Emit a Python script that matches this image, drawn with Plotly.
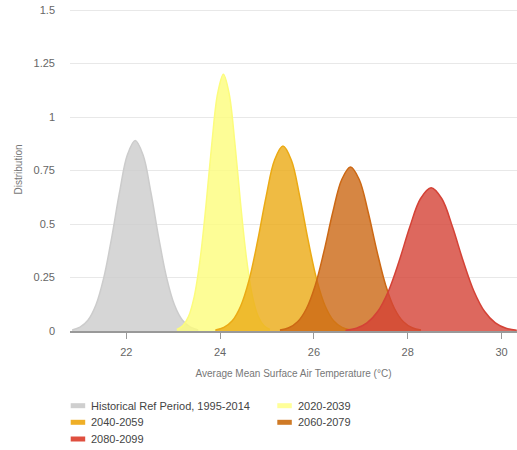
import plotly.graph_objects as go

# ---- data ----
names = ["Historical Ref Period, 1995-2014", "2020-2039", "2040-2059", "2060-2079", "2080-2099"]

hist_x = [20.846, 21.014, 21.182, 21.35, 21.518, 21.686, 21.854, 22.022, 22.19,
          22.358, 22.526, 22.694, 22.862, 23.03, 23.198, 23.366, 23.534]
hist_y = [0.005, 0.018, 0.050, 0.120, 0.247, 0.433, 0.646, 0.822, 0.89,
          0.822, 0.646, 0.433, 0.247, 0.120, 0.050, 0.018, 0.005]

p2020_x = [23.078, 23.202, 23.326, 23.45, 23.574, 23.698, 23.822, 23.946, 24.07,
           24.194, 24.318, 24.442, 24.566, 24.69, 24.814, 24.938, 25.062]
p2020_y = [0.007, 0.024, 0.067, 0.162, 0.334, 0.584, 0.871, 1.108, 1.2,
           1.108, 0.871, 0.584, 0.334, 0.162, 0.067, 0.024, 0.007]

p2040_x = [23.9, 24.08, 24.26, 24.44, 24.62, 24.8, 24.98, 25.16, 25.34,
           25.52, 25.7, 25.88, 26.06, 26.24, 26.42, 26.6, 26.78]
p2040_y = [0.005, 0.017, 0.048, 0.117, 0.240, 0.421, 0.627, 0.798, 0.864,
           0.798, 0.627, 0.421, 0.240, 0.117, 0.048, 0.017, 0.005]

p2060_x = [25.276, 25.464, 25.652, 25.84, 26.028, 26.216, 26.404, 26.592, 26.78,
           26.968, 27.156, 27.344, 27.532, 27.72, 27.908, 28.096, 28.284]
p2060_y = [0.005, 0.015, 0.043, 0.104, 0.213, 0.373, 0.556, 0.707, 0.766,
           0.707, 0.556, 0.373, 0.213, 0.104, 0.043, 0.015, 0.005]

p2080_x = [26.676, 26.904, 27.132, 27.36, 27.588, 27.816, 28.044, 28.272, 28.5,
           28.728, 28.956, 29.184, 29.412, 29.64, 29.868, 30.096, 30.324]
p2080_y = [0.004, 0.013, 0.038, 0.091, 0.186, 0.326, 0.486, 0.618, 0.669,
           0.618, 0.486, 0.326, 0.186, 0.091, 0.038, 0.013, 0.004]

x_ticks = [22, 24, 26, 28, 30]
y_ticks = [0, 0.25, 0.5, 0.75, 1, 1.25, 1.5]
y_tick_text = ["0", "0.25", "0.5", "0.75", "1", "1.25", "1.5"]

# ---- styles ----
base = [(204, 204, 204), (252, 252, 124), (235, 170, 20), (204, 104, 20), (212, 66, 54)]
legend_cols = ["#cfcfcf", "#ffff99", "#efaf27", "#cf7a26", "#df4f3f"]
series = [(hist_x, hist_y), (p2020_x, p2020_y), (p2040_x, p2040_y),
          (p2060_x, p2060_y), (p2080_x, p2080_y)]

fig = go.Figure()
for (xs, ys), nm, c in zip(series, names, base):
    fig.add_trace(go.Scatter(
        x=xs, y=ys, name=nm, mode="lines", fill="tozeroy",
        line=dict(color="rgb(%d,%d,%d)" % c, width=1.5, shape="spline", smoothing=1.0),
        fillcolor="rgba(%d,%d,%d,0.8)" % c, showlegend=False, hoverinfo="x+y+name"))

W, H = 517, 450
ML, MR, MT, MB = 70, 0, 8, 119
PW, PH = W - ML - MR, H - MT - MB
Y_TOP = PH / (321 / 1.5)   # keeps 1.5 at y = 10 px

def px(p):
    return (p - ML) / PW

def py(p):
    return (H - MB - p) / PH

legend_pos = [(70.7, 405.7), (277.3, 405.7), (70.7, 422.3), (277.3, 422.3), (70.7, 439)]
shapes = []
annotations = []
for (lx, ly), nm, col in zip(legend_pos, names, legend_cols):
    shapes.append(dict(type="rect", xref="paper", yref="paper",
                       x0=px(lx), x1=px(lx + 14.5), y0=py(ly + 2.5), y1=py(ly - 2.5),
                       fillcolor=col, line=dict(width=0)))
    annotations.append(dict(xref="paper", yref="paper", x=px(lx + 18.5), y=py(ly),
                            text=nm, showarrow=False, xanchor="left", yanchor="middle",
                            font=dict(family="Liberation Sans, Arial, sans-serif", size=11, color="#444")))

fig.update_layout(
    width=W, height=H,
    margin=dict(l=ML, r=MR, t=MT, b=MB, autoexpand=False),
    paper_bgcolor="white", plot_bgcolor="white",
    font=dict(family="Liberation Sans, Arial, sans-serif", size=11, color="#666"),
    shapes=shapes, annotations=annotations,
    xaxis=dict(range=[20.8, 30.33], tickvals=x_ticks, showgrid=False, zeroline=False,
               automargin=False, ticklabeloverflow="allow",
               showline=True, linecolor="#999", linewidth=1.5,
               ticks="outside", ticklen=6, tickcolor="#999", tickwidth=1,
               ticklabelstandoff=4,
               tickfont=dict(size=11, color="#666"),
               title=dict(text="Average Mean Surface Air Temperature (°C)",
                          font=dict(size=10, color="#777"), standoff=13)),
    yaxis=dict(range=[0, Y_TOP], tickvals=y_ticks, ticktext=y_tick_text,
               automargin=False, ticklabeloverflow="allow",
               showgrid=True, gridcolor="#e8e8e8", gridwidth=1, zeroline=False,
               showline=False, ticks="", ticklabelstandoff=14,
               tickfont=dict(size=11, color="#666"),
               title=dict(text="Distribution", font=dict(size=10, color="#777"), standoff=9)),
)

fig.write_html("out.html", config={"displayModeBar": False},
               post_script="document.body.style.margin='0';document.body.style.overflow='hidden';")
